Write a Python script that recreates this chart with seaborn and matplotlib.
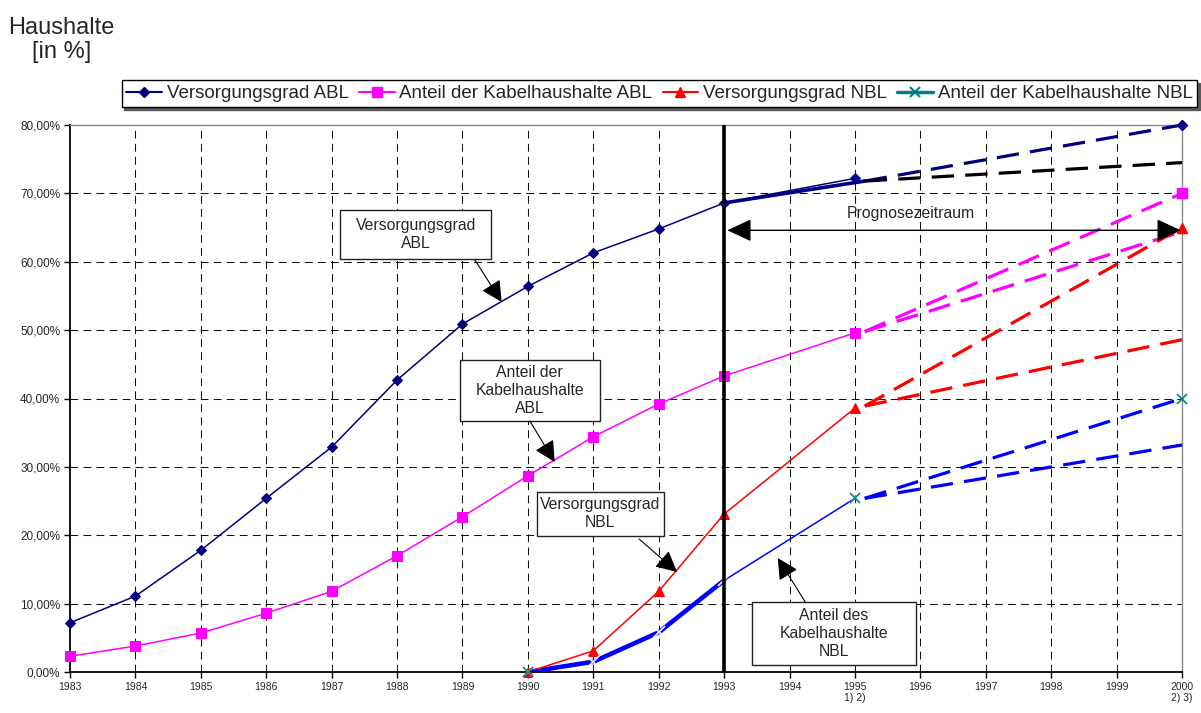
import numpy as np
import pandas as pd
import matplotlib
matplotlib.use("Agg")
import matplotlib.pyplot as plt
from matplotlib.lines import Line2D
from matplotlib.patches import Rectangle, FancyArrowPatch
import seaborn as sns

sns.set_style("white")
plt.rcParams["font.family"] = ["Liberation Sans", "DejaVu Sans"]

# --- data -------------------------------------------------------------
years = [1983, 1984, 1985, 1986, 1987, 1988, 1989, 1990, 1991, 1992, 1993, 1995]
versorgung_abl = [7.2, 11.1, 17.8, 25.4, 32.9, 42.7, 50.9, 56.4, 61.3, 64.8, 68.6, 72.2]
kabel_abl = [2.3, 3.8, 5.7, 8.6, 11.8, 17.0, 22.7, 28.7, 34.4, 39.2, 43.3, 49.6]

years_nbl = [1990, 1991, 1992, 1993, 1995]
versorgung_nbl = [0.0, 3.1, 11.8, 23.1, 38.6]
kabel_nbl = [0.0, 1.5, 5.8, 13.4, 25.4]

# values for the year 2000 (upper forecast)
year_end = 2000
end_versorgung_abl = 80.0
end_kabel_abl = 70.0
end_versorgung_nbl = 65.0
end_kabel_nbl = 40.0

# forecast fan: start just after 1995, upper and lower path to 2000
forecast_start_year = 1995.15
forecast_start = {"vabl": 71.8, "kabl": 49.8, "vnbl": 38.9, "knbl": 25.4}
forecast_upper = {"vabl": 80.0, "kabl": 70.0, "vnbl": 65.0, "knbl": 40.0}
forecast_lower = {"vabl": 74.5, "kabl": 64.4, "vnbl": 48.6, "knbl": 33.2}

x_ticks = list(range(1983, 2001))
x_labels = [str(y) for y in x_ticks]
x_labels[x_ticks.index(1995)] = "1995\n1) 2)"
x_labels[x_ticks.index(2000)] = "2000\n2) 3)"
y_ticks = [0, 10, 20, 30, 40, 50, 60, 70, 80]
y_labels = [f"{v},00%" for v in y_ticks]

legend_labels = ["Versorgungsgrad ABL", "Anteil der Kabelhaushalte ABL",
                 "Versorgungsgrad NBL", "Anteil der Kabelhaushalte NBL"]

NAVY = "#000080"
MAGENTA = "#FF00FF"
RED = "#FF0000"
BLUE = "#0000FF"
TEAL = "#008080"

# --- figure -----------------------------------------------------------
fig = plt.figure(figsize=(12.01, 7.13), dpi=100)
ax = fig.add_axes([70 / 1201, 1 - 672 / 713, (1182 - 70) / 1201, (672 - 125) / 713])

ax.set_xlim(1983, 2000)
ax.set_ylim(0, 80)

# dashed grid
for yv in y_ticks[1:-1]:
    ax.axhline(yv, color="#111111", lw=0.75, dashes=(7.5, 5), zorder=0)
for xv in x_ticks[1:-1]:
    ax.axvline(xv, color="#111111", lw=0.75, dashes=(7.5, 5), zorder=0)

df_abl = pd.DataFrame({"Jahr": years, "vabl": versorgung_abl, "kabl": kabel_abl})
df_nbl = pd.DataFrame({"Jahr": years_nbl, "vnbl": versorgung_nbl, "knbl": kabel_nbl})

# forecast dashes
fc_colors = {"vabl": (NAVY, "black"), "kabl": (MAGENTA, MAGENTA),
             "vnbl": (RED, RED), "knbl": (BLUE, BLUE)}
for key, (c_up, c_lo) in fc_colors.items():
    for target, col in ((forecast_upper, c_up), (forecast_lower, c_lo)):
        d = pd.DataFrame({"Jahr": [forecast_start_year, year_end],
                          "v": [forecast_start[key], target[key]]})
        sns.lineplot(data=d, x="Jahr", y="v", ax=ax, color=col, lw=2.3,
                     dashes=False, zorder=3, clip_on=False)
        ax.lines[-1].set_dashes((7, 3.5))

# heavy segments
thick_abl = pd.DataFrame({"Jahr": [1993, forecast_start_year],
                          "v": [versorgung_abl[years.index(1993)], forecast_start["vabl"]]})
sns.lineplot(data=thick_abl, x="Jahr", y="v", ax=ax, color=NAVY, lw=2.6, zorder=4)
thick_nbl = df_nbl[df_nbl["Jahr"] <= 1993]
sns.lineplot(data=thick_nbl, x="Jahr", y="knbl", ax=ax, color=BLUE, lw=3.3, zorder=4)

# observed series
sns.lineplot(data=df_abl, x="Jahr", y="vabl", ax=ax, color=NAVY, lw=1.1,
             marker="D", markersize=5.5, markeredgecolor=NAVY, zorder=5, clip_on=False)
sns.lineplot(data=df_abl, x="Jahr", y="kabl", ax=ax, color=MAGENTA, lw=1.1,
             marker="s", markersize=7, markeredgecolor=MAGENTA, zorder=5, clip_on=False)
sns.lineplot(data=df_nbl, x="Jahr", y="vnbl", ax=ax, color=RED, lw=1.1,
             marker="^", markersize=7, markeredgecolor=RED, zorder=5, clip_on=False)
sns.lineplot(data=df_nbl, x="Jahr", y="knbl", ax=ax, color=BLUE, lw=1.1,
             marker="x", markersize=8, markeredgewidth=1.2, zorder=5, clip_on=False)

# teal markers of the NBL cable share
teal_pts = df_nbl[df_nbl["Jahr"].isin([1990, 1995])]
ax.plot(teal_pts["Jahr"], teal_pts["knbl"], ls="none", marker="x", ms=7,
        mew=1.2, color=TEAL, zorder=6, clip_on=False)

# end points 2000
ax.plot([year_end], [end_versorgung_abl], ls="none", marker="D", ms=5.5, color=NAVY, zorder=6, clip_on=False)
ax.plot([year_end], [end_kabel_abl], ls="none", marker="s", ms=7, color=MAGENTA, zorder=6, clip_on=False)
ax.plot([year_end], [end_versorgung_nbl], ls="none", marker="^", ms=7, color=RED, zorder=6, clip_on=False)
ax.plot([year_end], [end_kabel_nbl], ls="none", marker="x", ms=7, mew=1.2, color=TEAL, zorder=6, clip_on=False)

# boundary of the forecast period
ax.axvline(1993, color="black", lw=2.6, zorder=7)

# forecast period arrow
arr = FancyArrowPatch((1993.05, 64.6), (1999.98, 64.6),
                      arrowstyle="<|-|>,head_length=0.75,head_width=0.35",
                      mutation_scale=20, color="black", lw=1.0,
                      shrinkA=0, shrinkB=0, zorder=8, clip_on=False)
ax.add_patch(arr)
ax.text(1995.86, 67.1, "Prognosezeitraum", ha="center", va="center",
        fontsize=11.3, zorder=8)

# call-out boxes
callouts = [
    ("Versorgungsgrad\nABL", (1987.13, 60.40, 2.31, 7.17), (1989.19, 60.26), (1989.60, 54.11)),
    ("Anteil der\nKabelhaushalte\nABL", (1988.96, 36.71, 2.14, 8.92), (1990.03, 36.71), (1990.41, 30.71)),
    ("Versorgungsgrad\nNBL", (1990.14, 19.89, 1.94, 6.44), (1991.70, 19.45), (1992.28, 14.63)),
    ("Anteil des\nKabelhaushalte\nNBL", (1993.43, 1.02, 2.50, 9.22), (1994.24, 10.24), (1993.82, 16.67)),
]
for text, (bx, by, bw, bh), start, tip in callouts:
    ax.add_patch(Rectangle((bx, by), bw, bh, facecolor="white", edgecolor="#222222",
                           lw=1.0, zorder=9))
    ax.text(bx + bw / 2, by + bh / 2, text, ha="center", va="center",
            fontsize=11.3, linespacing=1.25, zorder=10)
    ax.add_patch(FancyArrowPatch(start, tip,
                                 arrowstyle="-|>,head_length=0.65,head_width=0.33",
                                 mutation_scale=20, color="black", lw=0.8,
                                 shrinkA=0, shrinkB=0, zorder=10))

# axes styling
ax.set_xticks(x_ticks)
ax.set_xticklabels(x_labels, fontsize=7.5)
ax.set_yticks(y_ticks)
ax.set_yticklabels(y_labels, fontsize=8.5)
ax.tick_params(axis="both", direction="out", length=4, width=1, color="black", pad=3,
               bottom=True, left=True)
ax.set_xlabel("")
ax.set_ylabel("")
for side in ("left", "bottom"):
    ax.spines[side].set_color("black")
    ax.spines[side].set_linewidth(1.3)
for side in ("top", "right"):
    ax.spines[side].set_color("#8a8a8a")
    ax.spines[side].set_linewidth(1.0)

fig.text(8 / 1201, 1 - 34 / 713, "Haushalte", fontsize=17, ha="left", va="baseline")
fig.text(32 / 1201, 1 - 58 / 713, "[in %]", fontsize=17, ha="left", va="baseline")

handles = [
    Line2D([], [], color=NAVY, marker="D", ms=5.5, lw=1.5),
    Line2D([], [], color=MAGENTA, marker="s", ms=7, lw=1.5),
    Line2D([], [], color=RED, marker="^", ms=7, lw=1.5),
    Line2D([], [], color=TEAL, marker="x", ms=7, mew=1.5, lw=2.5),
]
leg = fig.legend(handles, legend_labels, loc="center",
                 bbox_to_anchor=(659.5 / 1201, 1 - 93.5 / 713), ncol=4,
                 fontsize=13.5, frameon=True, fancybox=False, edgecolor="black",
                 shadow={"color": "0.35", "alpha": 1.0, "ox": 2, "oy": -2},
                 handlelength=1.9, handletextpad=0.25, columnspacing=0.55,
                 borderpad=0.25, borderaxespad=0)
leg.get_frame().set_linewidth(1.0)

fig.savefig("out.png", dpi=100)
